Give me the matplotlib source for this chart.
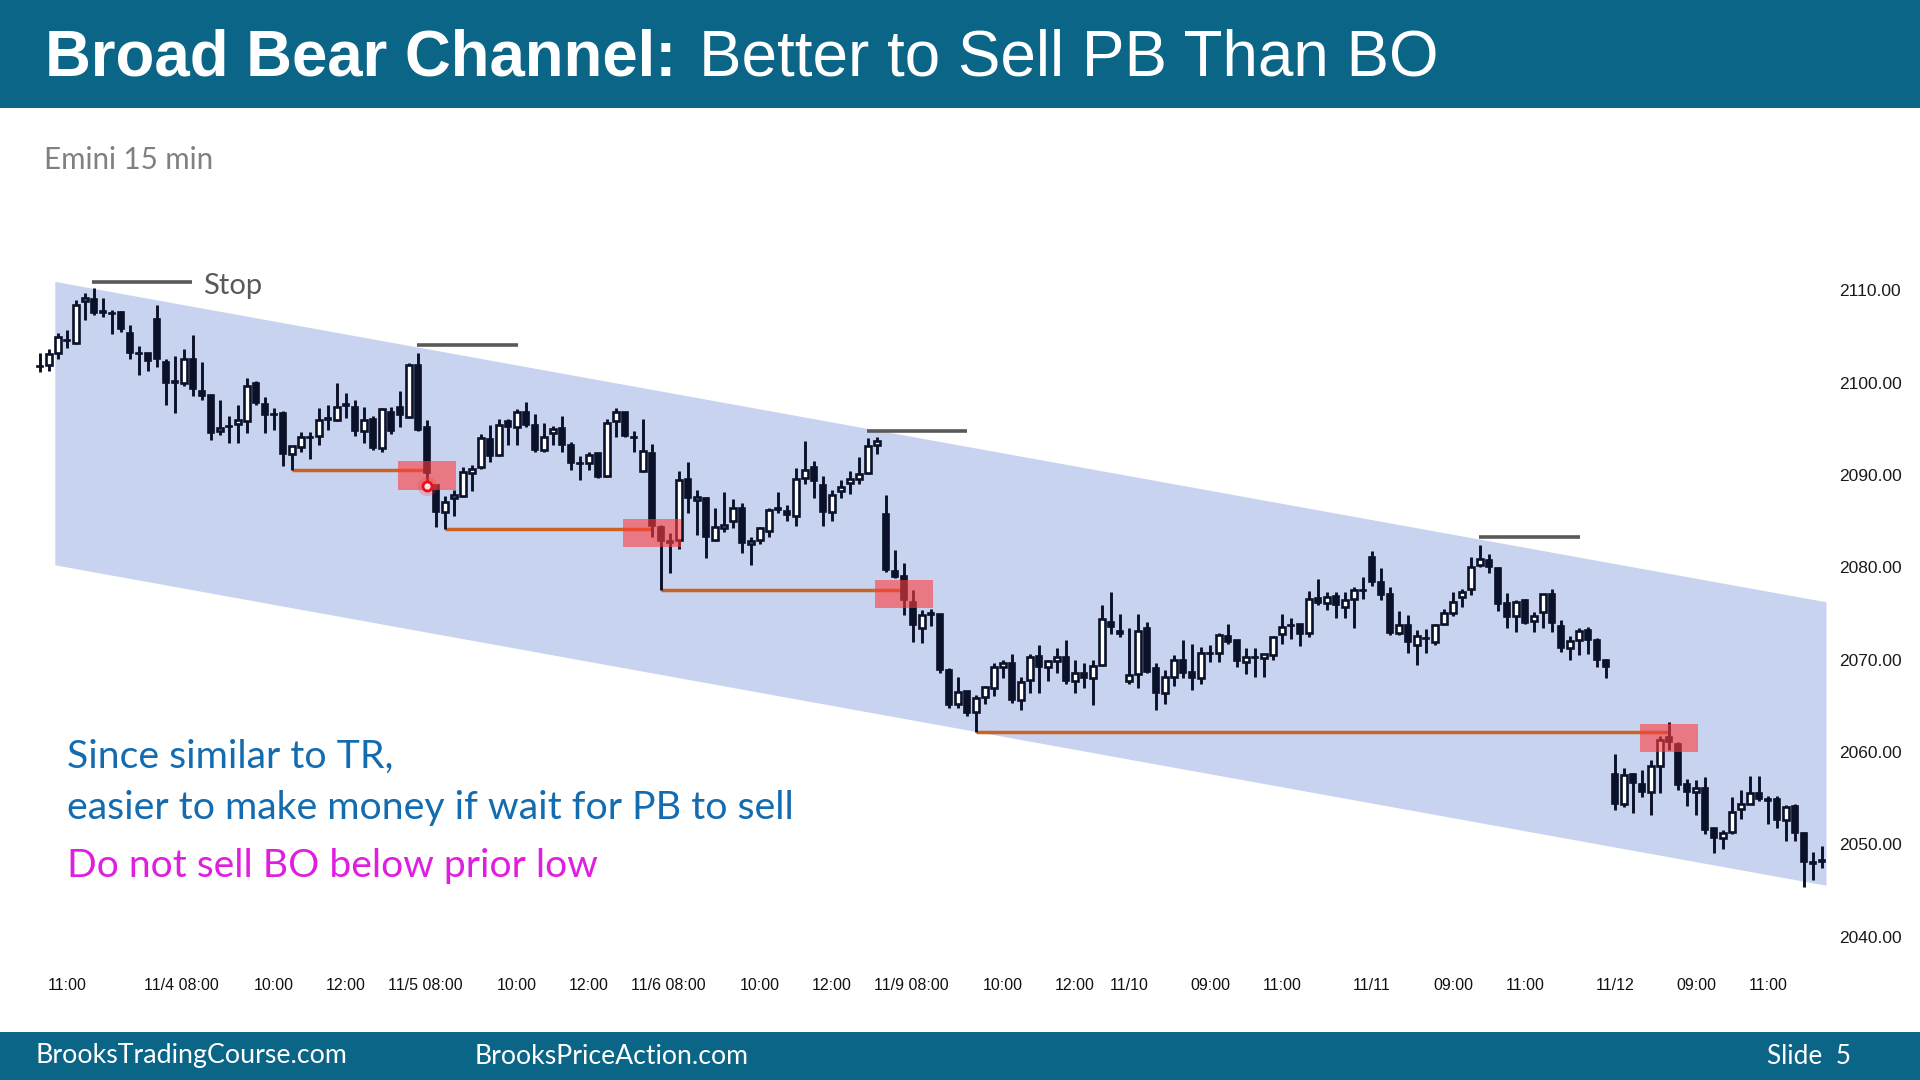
import matplotlib
matplotlib.use('Agg')
import matplotlib.pyplot as plt
from matplotlib.patches import Rectangle, Polygon

# ---------------- data (Emini 15 min bars) ----------------
opens = [2101.8, 2101.9, 2103.25, 2104.6, 2104.3, 2108.8, 2109.0, 2107.7, 2107.5, 2107.6,
         2105.4, 2103.2, 2103.2, 2106.9, 2102.2, 2100.1, 2099.9, 2102.6, 2099.1, 2098.7,
         2094.7, 2095.3, 2095.5, 2095.8, 2099.9, 2097.7, 2096.6, 2096.7, 2092.3, 2093.0,
         2094.1, 2094.2, 2096.1, 2095.94, 2097.6, 2097.4, 2094.8, 2096.0, 2092.9, 2096.85,
         2097.4, 2096.3, 2101.9, 2095.15, 2088.9, 2086.0, 2087.5, 2087.7, 2090.2, 2090.9,
         2093.85, 2092.15, 2095.8, 2095.2, 2096.85, 2095.4, 2092.7, 2094.5, 2095.1, 2093.2,
         2091.3, 2091.25, 2092.4, 2089.85, 2095.8, 2096.85, 2094.1, 2090.45, 2092.4, 2084.4,
         2082.8, 2082.95, 2089.6, 2087.3, 2087.5, 2082.95, 2084.2, 2085.0, 2086.4, 2082.5,
         2082.95, 2083.96, 2086.35, 2086.1, 2085.5, 2089.7, 2090.9, 2088.9, 2086.0, 2088.3,
         2089.1, 2089.5, 2090.24, 2093.2, 2085.8, 2079.6, 2079.0, 2076.2, 2073.4, 2075.0,
         2074.9, 2068.9, 2065.2, 2066.6, 2064.35, 2065.98, 2066.9, 2069.2, 2069.6, 2065.6,
         2067.8, 2070.4, 2069.2, 2069.8, 2070.3, 2067.7, 2068.5, 2067.96, 2069.4, 2074.1,
         2073.1, 2067.7, 2068.4, 2073.4, 2069.05, 2066.4, 2068.07, 2070.0, 2068.6, 2068.0,
         2070.67, 2070.67, 2072.6, 2072.1, 2069.75, 2070.25, 2070.2, 2070.5, 2072.8, 2073.7,
         2073.8, 2072.84, 2076.7, 2076.16, 2076.9, 2075.65, 2076.6, 2077.5, 2081.07, 2078.4,
         2077.1, 2072.9, 2073.7, 2071.57, 2072.3, 2071.9, 2073.9, 2075.0, 2076.8, 2077.6,
         2080.24, 2080.8, 2079.9, 2076.1, 2074.7, 2076.45, 2074.2, 2075.1, 2077.15, 2073.6,
         2071.2, 2072.1, 2073.2, 2072.1, 2069.9, 2057.6, 2054.4, 2057.6, 2056.5, 2055.7,
         2058.5, 2061.6, 2060.9, 2056.5, 2055.7, 2056.05, 2051.8, 2050.7, 2051.3, 2053.8,
         2054.4, 2055.5, 2054.8, 2054.85, 2052.6, 2054.1, 2051.2, 2048.0, 2048.2]
highs = [2103.2, 2103.6, 2105.4, 2105.7, 2108.9, 2109.7, 2110.2, 2109.2, 2107.9, 2107.8,
         2106.2, 2104.0, 2103.2, 2108.4, 2102.6, 2102.9, 2103.6, 2105.2, 2102.2, 2098.7,
         2098.1, 2096.4, 2097.6, 2100.5, 2100.2, 2098.4, 2097.2, 2096.9, 2093.1, 2094.6,
         2094.6, 2097.2, 2097.6, 2099.9, 2098.9, 2098.1, 2097.4, 2096.4, 2097.2, 2097.4,
         2099.1, 2102.15, 2103.2, 2095.9, 2088.9, 2087.7, 2088.4, 2090.9, 2091.1, 2094.4,
         2095.4, 2096.1, 2096.1, 2097.1, 2097.9, 2096.6, 2095.6, 2095.3, 2096.4, 2093.6,
         2092.0, 2092.5, 2092.4, 2096.1, 2097.2, 2096.85, 2094.8, 2096.1, 2093.3, 2084.55,
         2083.7, 2090.45, 2091.4, 2088.4, 2087.6, 2086.4, 2088.1, 2087.35, 2086.9, 2083.3,
         2084.4, 2086.4, 2088.1, 2086.7, 2090.7, 2093.7, 2091.5, 2089.9, 2088.4, 2089.4,
         2090.45, 2091.9, 2093.96, 2094.06, 2087.8, 2081.9, 2080.4, 2077.5, 2075.4, 2075.5,
         2074.9, 2069.05, 2068.1, 2066.6, 2066.2, 2067.1, 2069.6, 2069.95, 2070.6, 2068.07,
         2070.6, 2071.6, 2069.95, 2071.3, 2072.1, 2070.0, 2069.6, 2070.0, 2075.9, 2077.35,
         2074.9, 2073.4, 2074.9, 2074.1, 2069.6, 2068.9, 2070.5, 2072.1, 2071.7, 2071.4,
         2071.6, 2072.9, 2073.85, 2072.1, 2071.2, 2071.2, 2070.6, 2072.6, 2074.9, 2074.46,
         2073.8, 2077.46, 2078.7, 2077.3, 2077.3, 2077.3, 2077.9, 2078.9, 2081.7, 2079.9,
         2077.9, 2075.3, 2074.8, 2073.2, 2073.3, 2073.8, 2075.5, 2077.3, 2077.6, 2081.07,
         2082.4, 2081.4, 2080.0, 2077.2, 2076.4, 2076.6, 2075.2, 2077.1, 2077.6, 2074.3,
         2072.6, 2073.45, 2073.5, 2072.3, 2070.1, 2059.8, 2058.2, 2057.7, 2058.0, 2059.1,
         2061.7, 2063.27, 2061.1, 2057.1, 2057.0, 2057.3, 2051.8, 2051.5, 2055.1, 2055.9,
         2057.4, 2057.4, 2055.2, 2055.2, 2054.2, 2054.3, 2051.3, 2049.1, 2049.8]
lows = [2101.1, 2101.3, 2102.5, 2103.7, 2104.2, 2106.8, 2107.3, 2107.1, 2105.3, 2105.5,
        2102.5, 2100.8, 2101.3, 2101.7, 2097.6, 2096.75, 2099.6, 2098.5, 2098.1, 2093.8,
        2094.3, 2093.5, 2093.5, 2094.5, 2097.6, 2094.5, 2094.9, 2091.0, 2090.5, 2092.5,
        2091.7, 2093.25, 2094.9, 2095.8, 2096.2, 2094.2, 2093.5, 2092.7, 2092.5, 2094.4,
        2095.2, 2096.2, 2094.8, 2089.1, 2084.4, 2084.1, 2085.5, 2087.6, 2088.2, 2090.6,
        2091.4, 2092.0, 2093.2, 2093.2, 2095.2, 2092.5, 2092.5, 2093.2, 2092.5, 2090.5,
        2089.4, 2090.5, 2089.7, 2089.8, 2094.1, 2094.1, 2092.5, 2090.35, 2083.3, 2077.5,
        2079.4, 2082.0, 2085.9, 2083.5, 2081.0, 2082.8, 2083.8, 2084.2, 2081.5, 2080.2,
        2082.5, 2083.3, 2085.9, 2085.0, 2084.5, 2089.0, 2087.5, 2084.5, 2085.0, 2087.5,
        2087.9, 2089.0, 2090.1, 2092.3, 2079.5, 2078.8, 2074.8, 2071.9, 2071.75, 2073.6,
        2068.5, 2064.7, 2064.7, 2063.9, 2062.1, 2065.2, 2066.0, 2067.96, 2065.3, 2064.5,
        2066.4, 2066.4, 2067.7, 2068.5, 2067.4, 2066.4, 2066.9, 2065.1, 2069.3, 2072.8,
        2072.4, 2067.4, 2066.9, 2068.5, 2064.5, 2065.2, 2067.1, 2068.0, 2066.7, 2067.4,
        2069.7, 2069.7, 2071.7, 2069.2, 2068.4, 2068.1, 2068.1, 2069.95, 2071.7, 2072.2,
        2071.5, 2072.4, 2075.9, 2075.4, 2074.5, 2074.5, 2073.4, 2076.6, 2078.0, 2076.45,
        2072.7, 2072.7, 2070.67, 2069.4, 2070.7, 2071.6, 2073.7, 2074.7, 2075.7, 2077.0,
        2080.0, 2079.4, 2075.3, 2073.45, 2073.0, 2073.9, 2073.0, 2073.45, 2073.0, 2070.85,
        2070.0, 2070.5, 2070.6, 2069.2, 2068.0, 2053.7, 2054.0, 2053.4, 2055.15, 2053.16,
        2055.5, 2060.2, 2055.9, 2054.1, 2053.2, 2051.1, 2049.0, 2049.5, 2051.1, 2052.7,
        2054.3, 2054.7, 2052.2, 2051.7, 2050.3, 2050.3, 2045.4, 2046.1, 2047.4]
closes = [2101.7, 2103.1, 2104.9, 2104.5, 2108.4, 2109.2, 2107.5, 2107.6, 2107.4, 2105.8,
          2103.25, 2103.1, 2102.3, 2102.5, 2100.0, 2100.0, 2102.6, 2099.3, 2098.5, 2094.5,
          2095.05, 2095.2, 2095.9, 2099.6, 2097.8, 2096.5, 2096.5, 2092.3, 2093.1, 2094.15,
          2094.0, 2095.9, 2096.0, 2097.4, 2097.5, 2094.7, 2095.9, 2092.9, 2097.1, 2094.7,
          2096.5, 2101.9, 2094.9, 2090.2, 2086.0, 2087.1, 2087.8, 2090.35, 2090.6, 2093.96,
          2092.0, 2095.4, 2095.2, 2096.85, 2095.4, 2092.7, 2094.1, 2095.0, 2093.2, 2091.25,
          2091.2, 2092.15, 2089.8, 2095.65, 2096.85, 2094.2, 2094.0, 2092.6, 2084.5, 2082.8,
          2082.7, 2089.4, 2087.5, 2087.6, 2083.3, 2084.3, 2084.6, 2086.4, 2082.65, 2082.8,
          2084.2, 2086.2, 2086.3, 2085.65, 2089.6, 2090.5, 2089.3, 2086.0, 2087.8, 2088.65,
          2089.6, 2090.1, 2093.1, 2093.7, 2079.7, 2078.97, 2076.5, 2073.7, 2074.8, 2074.9,
          2068.9, 2065.1, 2066.5, 2064.2, 2065.8, 2067.06, 2069.2, 2069.6, 2065.6, 2067.6,
          2070.3, 2069.2, 2069.8, 2070.3, 2067.7, 2068.5, 2067.96, 2069.3, 2074.35, 2073.56,
          2072.8, 2068.3, 2073.1, 2068.7, 2066.4, 2068.07, 2069.9, 2068.5, 2067.96, 2070.7,
          2070.6, 2072.66, 2071.9, 2069.8, 2070.3, 2070.2, 2070.6, 2072.4, 2073.56, 2073.65,
          2072.8, 2076.6, 2076.16, 2076.8, 2075.9, 2076.5, 2077.5, 2077.45, 2078.43, 2077.0,
          2072.9, 2073.74, 2071.9, 2072.55, 2072.25, 2073.7, 2075.0, 2076.27, 2077.3, 2080.06,
          2080.85, 2080.0, 2076.0, 2074.57, 2076.27, 2074.0, 2074.7, 2077.1, 2074.0, 2071.2,
          2072.0, 2073.1, 2072.1, 2069.9, 2069.2, 2054.4, 2057.5, 2056.66, 2055.7, 2058.47,
          2061.3, 2061.1, 2056.4, 2055.7, 2056.05, 2051.5, 2050.7, 2051.25, 2053.5, 2054.4,
          2055.5, 2054.85, 2054.75, 2052.6, 2054.07, 2051.2, 2048.1, 2047.95, 2048.15]

time_tick_bars = [3, 15.7, 26, 34, 42.8, 53, 61, 69.8, 80, 88, 96.8, 107, 115,
                  121, 130, 138, 148, 157, 165, 175, 184, 192]
time_tick_labels = ['11:00', '11/4 08:00', '10:00', '12:00', '11/5 08:00', '10:00', '12:00',
                    '11/6 08:00', '10:00', '12:00', '11/9 08:00', '10:00', '12:00',
                    '11/10', '09:00', '11:00', '11/11', '09:00', '11:00', '11/12', '09:00', '11:00']
price_ticks = [2040, 2050, 2060, 2070, 2080, 2090, 2100, 2110]

# bear channel (left / right bar, upper and lower prices)
channel_bars = [1.7, 198.5]
channel_upper = [2110.9, 2076.2]
channel_lower = [2080.2, 2045.5]

# stop lines above the pullback highs
stop_start = [5.8, 41.9, 91.9, 159.9]
stop_end = [16.9, 53.1, 103.0, 171.1]
stop_price = [2110.9, 2104.1, 2094.75, 2083.3]

# prior-low lines
low_start = [28, 45, 69, 104]
low_end = [43, 68, 96, 181]
low_price = [2090.5, 2084.1, 2077.5, 2062.1]

# highlighted bars
box_bar = [43, 68, 96, 181]
box_top = [2091.5, 2085.2, 2078.6, 2063.0]
box_bottom = [2088.4, 2082.2, 2075.55, 2060.0]

signal_bar = 43
signal_price = 2088.8

# ---------------- figure ----------------
W, H = 1920, 1080
fig = plt.figure(figsize=(19.2, 10.8), dpi=100)
fig.patch.set_facecolor('white')

def fx(px):
    return px / W

def fy(py):
    return 1 - py / H

# axes mapped so that bar i sits at x = 40 + 9*i px and price p at y = 290.2 + (2110-p)*9.233 px
ax_left, ax_right, ax_top, ax_bot = 0, 1832, 180, 960
ax = fig.add_axes([fx(ax_left), fy(ax_bot), (ax_right - ax_left) / W, (ax_bot - ax_top) / H])
ax.set_xlim((ax_left - 40) / 9.0, (ax_right - 40) / 9.0)
ax.set_ylim(2110 - (ax_bot - 290.2) / 9.233, 2110 + (290.2 - ax_top) / 9.233)
ax.set_facecolor('none')
for s in ax.spines.values():
    s.set_visible(False)

# channel
poly = Polygon([(channel_bars[0], channel_upper[0]), (channel_bars[1], channel_upper[1]),
                (channel_bars[1], channel_lower[1]), (channel_bars[0], channel_lower[0])],
               closed=True, facecolor='#c8d4ef', edgecolor='none', zorder=1)
ax.add_patch(poly)

# stop lines and prior-low lines
ax.hlines(stop_price, stop_start, stop_end, colors='#595959', linewidth=2.6, zorder=2.5)
ax.hlines(low_price, low_start, low_end, colors='#cc6324', linewidth=2.5, zorder=2.5)

# candles
dark = '#0a1128'
xs = list(range(len(opens)))
ax.vlines(xs, lows, highs, colors=dark, linewidth=2.1, zorder=3)
bw = 0.64
for i, (o, c) in enumerate(zip(opens, closes)):
    bottom = min(o, c)
    h = abs(c - o)
    if h < 0.16:
        bottom = (o + c) / 2 - 0.08
        h = 0.16
        ax.bar(i, h, bottom=bottom, width=bw, color=dark, edgecolor=dark, linewidth=1.2, zorder=4)
    elif c > o:
        ax.bar(i, h, bottom=bottom, width=bw, facecolor='white', edgecolor=dark, linewidth=1.9, zorder=4)
    else:
        ax.bar(i, h, bottom=bottom, width=bw, facecolor=dark, edgecolor=dark, linewidth=1.2, zorder=4)

# highlight boxes
for b, t, bt in zip(box_bar, box_top, box_bottom):
    ax.add_patch(Rectangle((b - 3.17, bt), 6.34, t - bt, facecolor='#ff3b3b',
                           edgecolor='none', alpha=0.6, zorder=5))

# signal marker
ax.plot([signal_bar], [signal_price], 'o', ms=14, color='#ff4040', alpha=0.25, mec='none', zorder=6)
ax.plot([signal_bar], [signal_price], 'o', ms=6.5, mfc='#ffe0e0', mec='#e8101a', mew=2.0, zorder=7)

# axes ticks
ax.set_xticks(time_tick_bars)
ax.set_xticklabels(time_tick_labels, fontfamily='Liberation Sans', fontsize=11.5, color='#111111')
ax.tick_params(axis='x', length=0, pad=13)
ax.yaxis.tick_right()
ax.set_yticks(price_ticks)
ax.set_yticklabels([f'{v:.2f}' for v in price_ticks], fontfamily='Liberation Sans',
                   fontsize=12.5, color='#1a1a1a')
ax.tick_params(axis='y', length=0, pad=5)

# header & footer bars
bar_col = '#0b6587'
fig.patches.append(Rectangle((0, fy(108)), 1, 108 / H, transform=fig.transFigure,
                             facecolor=bar_col, edgecolor='none', zorder=0))
fig.patches.append(Rectangle((0, 0), 1, 48 / H, transform=fig.transFigure,
                             facecolor=bar_col, edgecolor='none', zorder=0))

fig.canvas.draw()
renderer = fig.canvas.get_renderer()

def fit_text(x_px, y_px, s, target_w, size0=20, **kw):
    t = fig.text(fx(x_px), fy(y_px), s, fontsize=size0, **kw)
    w = t.get_window_extent(renderer).width
    t.set_fontsize(size0 * target_w / w)
    return t

fit_text(45, 75, 'Broad Bear Channel:', 632, 45, color='white', fontfamily='Liberation Sans',
         fontweight='bold', va='baseline', ha='left')
fit_text(699, 75, 'Better to Sell PB Than BO', 740, 45, color='white', fontfamily='Liberation Sans',
         va='baseline', ha='left')
fit_text(44, 160, 'Emini 15 min', 169, 22, color='#808080', fontfamily='Lato', va='center', ha='left')

fit_text(67, 757, 'Since similar to TR,', 326, 30, color='#136bb0', fontfamily='Lato', va='center', ha='left')
fit_text(67, 808, 'easier to make money if wait for PB to sell', 727, 30, color='#136bb0',
         fontfamily='Lato', va='center', ha='left')
fit_text(67, 866, 'Do not sell BO below prior low', 529, 30, color='#e01ee0', fontfamily='Lato',
         va='center', ha='left')

fit_text(35, 1056, 'BrooksTradingCourse.com', 311, 21, color='white', fontfamily='Lato', va='center', ha='left')
fit_text(475, 1056, 'BrooksPriceAction.com', 273, 21, color='white', fontfamily='Lato', va='center', ha='left')
fit_text(1767, 1056, 'Slide  5', 84, 21, color='white', fontfamily='Lato', va='center', ha='left')

# "Stop" label next to the first stop line
t = ax.text(18.1, 2110.5, 'Stop', color='#595959', fontfamily='Lato', fontsize=20, va='center', ha='left')
w = t.get_window_extent(renderer).width
t.set_fontsize(20 * 59 / w)

fig.savefig('out.png', dpi=100, facecolor='white')
